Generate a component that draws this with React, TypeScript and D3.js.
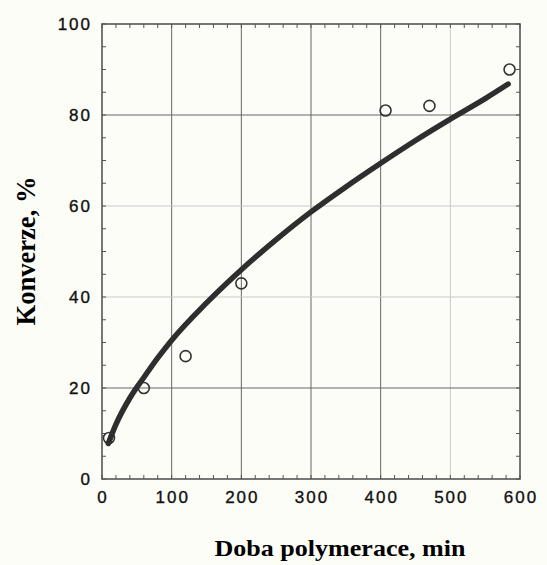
import { useEffect, useRef } from "react";
import * as d3 from "d3";

const WIDTH = 547;
const HEIGHT = 565;
const MARGIN = { top: 24, right: 27, bottom: 86, left: 102 };
const INNER_W = WIDTH - MARGIN.left - MARGIN.right;
const INNER_H = HEIGHT - MARGIN.top - MARGIN.bottom;

// measured points (time in min, conversion in %)
const pointTime = [10, 60, 120, 200, 407, 470, 585];
const pointConv = [9, 20, 27, 43, 81, 82, 90];

// fitted curve
const curveTime = [9, 20, 40, 60, 80, 100, 150, 200, 250, 300, 350, 400, 450, 500, 550, 583];
const curveConv = [7.8, 12, 17.8, 22.3, 26.6, 30.5, 38.7, 46, 52.6, 58.7, 64.2, 69.4, 74.4, 79.1, 83.6, 86.8];

const xTicks = [0, 100, 200, 300, 400, 500, 600];
const yTicks = [0, 20, 40, 60, 80, 100];

const X_TITLE = "Doba polymerace, min";
const Y_TITLE = "Konverze, %";

const FAINT_X = new Set([500]);
const FAINT_Y = new Set([40, 60]);

export default function App() {
  const svgRef = useRef<SVGSVGElement>(null);

  useEffect(() => {
    if (!svgRef.current) return;
    const svg = d3.select(svgRef.current);
    svg.selectAll("*").remove();

    const x = d3.scaleLinear().domain([0, 600]).range([0, INNER_W]);
    const y = d3.scaleLinear().domain([0, 100]).range([INNER_H, 0]);

    svg.append("rect").attr("width", WIDTH).attr("height", HEIGHT).attr("fill", "#fdfdf8");

    const g = svg.append("g").attr("transform", `translate(${MARGIN.left},${MARGIN.top})`);

    // grid
    g.selectAll(".vgrid")
      .data(xTicks.filter((t) => t > 0 && t < 600))
      .join("line")
      .attr("x1", (d) => x(d)).attr("x2", (d) => x(d))
      .attr("y1", 0).attr("y2", INNER_H)
      .attr("stroke", (d) => (FAINT_X.has(d) ? "#c8c8c8" : "#666"))
      .attr("stroke-width", 1);

    g.selectAll(".hgrid")
      .data(yTicks.filter((t) => t > 0 && t < 100))
      .join("line")
      .attr("x1", 0).attr("x2", INNER_W)
      .attr("y1", (d) => y(d)).attr("y2", (d) => y(d))
      .attr("stroke", (d) => (FAINT_Y.has(d) ? "#c8c8c8" : "#666"))
      .attr("stroke-width", 1);

    // minor ticks, inward on all four sides
    const tickLen = 4;
    const xMinor = x.ticks(30);
    const yMinor = y.ticks(20);
    const tickColor = "#555";
    g.selectAll(".tb").data(xMinor).join("line")
      .attr("x1", (d) => x(d)).attr("x2", (d) => x(d))
      .attr("y1", INNER_H).attr("y2", INNER_H - tickLen)
      .attr("stroke", tickColor);
    g.selectAll(".tt").data(xMinor).join("line")
      .attr("x1", (d) => x(d)).attr("x2", (d) => x(d))
      .attr("y1", 0).attr("y2", tickLen)
      .attr("stroke", tickColor);
    g.selectAll(".tl").data(yMinor).join("line")
      .attr("x1", 0).attr("x2", tickLen)
      .attr("y1", (d) => y(d)).attr("y2", (d) => y(d))
      .attr("stroke", tickColor);
    g.selectAll(".tr").data(yMinor).join("line")
      .attr("x1", INNER_W).attr("x2", INNER_W - tickLen)
      .attr("y1", (d) => y(d)).attr("y2", (d) => y(d))
      .attr("stroke", tickColor);

    // frame
    g.append("rect")
      .attr("width", INNER_W).attr("height", INNER_H)
      .attr("fill", "none").attr("stroke", "#555").attr("stroke-width", 1.6);

    // tick labels
    const labelFont = "'Liberation Sans', Arial, sans-serif";
    g.selectAll(".xl").data(xTicks).join("text")
      .attr("x", (d) => x(d) + 1)
      .attr("y", INNER_H + 24)
      .attr("text-anchor", "middle")
      .attr("font-family", labelFont)
      .attr("font-size", 17)
      .attr("letter-spacing", 2)
      .attr("fill", "#111")
      .attr("stroke", "#111")
      .attr("stroke-width", 0.35)
      .text((d) => d);

    g.selectAll(".yl").data(yTicks).join("text")
      .attr("x", -10)
      .attr("y", (d) => y(d) + 6)
      .attr("text-anchor", "end")
      .attr("font-family", labelFont)
      .attr("font-size", 17)
      .attr("letter-spacing", 2)
      .attr("fill", "#111")
      .attr("stroke", "#111")
      .attr("stroke-width", 0.35)
      .text((d) => d);

    // curve
    const curve = curveTime.map((t, i) => [t, curveConv[i]] as [number, number]);
    g.append("path")
      .datum(curve)
      .attr("fill", "none")
      .attr("stroke", "#2e2e2e")
      .attr("stroke-width", 5.5)
      .attr("stroke-linecap", "round")
      .attr("d", d3.line<[number, number]>().x((d) => x(d[0])).y((d) => y(d[1])).curve(d3.curveMonotoneX));

    // points
    g.selectAll(".pt")
      .data(pointTime.map((t, i) => [t, pointConv[i]]))
      .join("circle")
      .attr("cx", (d) => x(d[0]))
      .attr("cy", (d) => y(d[1]))
      .attr("r", 5.5)
      .attr("fill", "none")
      .attr("stroke", "#333")
      .attr("stroke-width", 1.6);

    // axis titles
    const titleFont = "'Liberation Serif', 'Times New Roman', serif";
    svg.append("text")
      .attr("x", 340)
      .attr("y", 556)
      .attr("text-anchor", "middle")
      .attr("font-family", titleFont)
      .attr("font-weight", "bold")
      .attr("font-size", 24)
      .attr("textLength", 251)
      .attr("lengthAdjust", "spacingAndGlyphs")
      .attr("fill", "#000")
      .text(X_TITLE);

    svg.append("text")
      .attr("transform", "translate(35,251) rotate(-90)")
      .attr("text-anchor", "middle")
      .attr("font-family", titleFont)
      .attr("font-weight", "bold")
      .attr("font-size", 27)
      .attr("textLength", 149)
      .attr("lengthAdjust", "spacingAndGlyphs")
      .attr("fill", "#000")
      .text(Y_TITLE);
  }, []);

  return (
    <svg
      ref={svgRef}
      width={WIDTH}
      height={HEIGHT}
      style={{ position: "absolute", left: 0, top: 0, display: "block" }}
    />
  );
}
